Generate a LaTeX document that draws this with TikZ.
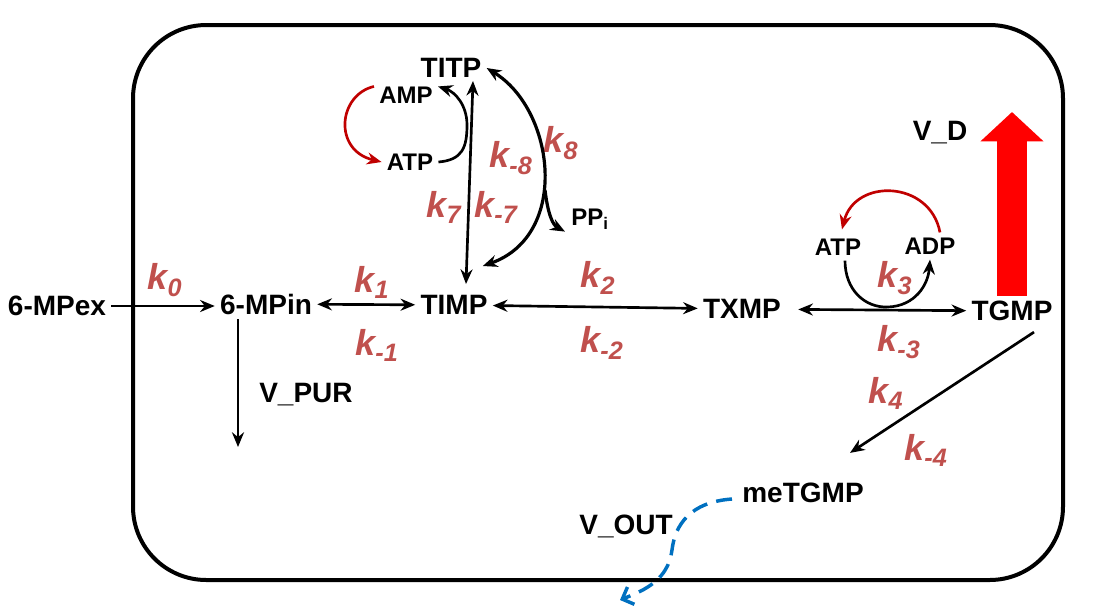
\documentclass[tikz,border=0pt]{standalone}
\usepackage{fontspec}
\setmainfont{Liberation Sans}
\usetikzlibrary{arrows.meta,positioning,calc}
\definecolor{kred}{RGB}{192,80,77}
\definecolor{cycred}{RGB}{192,0,0}
\definecolor{outblue}{RGB}{0,112,192}
\newcommand{\kk}[1]{k\textsubscript{#1}}

\begin{document}
\begin{tikzpicture}[x=0.75pt, y=-0.75pt, >={Stealth[length=11pt,width=9pt]}, line width=2pt,
  mol/.style={font=\fontsize{21}{24}\selectfont\bfseries, inner sep=3pt, text depth=0pt},
  sml/.style={font=\fontsize{18}{20}\selectfont\bfseries, inner sep=3pt, text depth=0pt},
  klab/.style={font=\fontsize{27}{30}\selectfont\bfseries\itshape, text=kred, inner sep=0pt},
  cyc/.style={cycred, ->}]
  \useasboundingbox (0,0) rectangle (1097,612);
  \draw[line width=3pt, rounded corners=55pt] (133,25) rectangle (1063,580);

  \node[mol] (mpex) at (57,306) {6-MPex};
  \node[mol] (mpin) at (266,304) {6-MPin};
  \node[mol] (timp) at (454,305) {TIMP};
  \node[mol] (txmp) at (742,309) {TXMP};
  \node[mol] (tgmp) at (1012,311) {TGMP};
  \node[mol] (titp) at (451,68) {TITP};
  \node[sml] (amp) at (406,95) {AMP};
  \node[sml] (atpa) at (410,162) {ATP};
  \node[sml] (ppi) at (590,217) {PP\textsubscript{i}};
  \node[sml] (atpb) at (838,247) {ATP};
  \node[sml] (adp) at (930,246) {ADP};
  \node[mol] (vd) at (940,131) {V\_D};
  \node[mol] (vpur) at (306,393) {V\_PUR};
  \node[mol] (metgmp) at (803,493) {meTGMP};
  \node[mol] (vout) at (626,525) {V\_OUT};

  \node[klab] (k0) at (165,280) {\kk{0}};
  \node[klab] (k1) at (372,282) {\kk{1}};
  \node[klab] (km1) at (377,345) {\kk{-1}};
  \node[klab] (k2) at (598,278) {\kk{2}};
  \node[klab] (km2) at (602,343) {\kk{-2}};
  \node[klab] (k3) at (895,278) {\kk{3}};
  \node[klab] (km3) at (899,342) {\kk{-3}};
  \node[klab] (k4) at (886,393) {\kk{4}};
  \node[klab] (km4) at (926,450) {\kk{-4}};
  \node[klab] (k7) at (444,207) {\kk{7}};
  \node[klab] (km7) at (496,207) {\kk{-7}};
  \node[klab] (km8) at (511,158) {\kk{-8}};
  \node[klab] (k8) at (561,143) {\kk{8}};

  \coordinate (purend) at (238,447);
  \coordinate (ppbr) at (545,190);
  \coordinate (vdtip) at (1012,112);
  \coordinate (outend) at (620,600);

  \draw[->] (mpex.east) -- (mpex.east -| mpin.west);
  \draw[<->] (mpin) -- (timp);
  \draw[<->] (timp) -- (txmp);
  \draw[<->, shorten <=9pt] (txmp) -- (tgmp);
  \draw[->] (mpin.south -| purend) -- (purend);
  \draw[<->] ($(titp.south)+(22,-2)$) -- ($(timp.north)+(12,-6)$);
  \draw[<->, line width=2.4pt] (titp.east) .. controls (555,110) and (570,235) .. ($(timp.north east)+(-10,-24)$);
  \draw[->, line width=2.4pt] (ppbr) .. controls (548,215) and (553,225) .. ($(ppi.south west)+(-1,1)$);
  \draw[->] (atpa.east) .. controls (462,160) and (467,148) .. (467,125) .. controls (467,105) and (455,92) .. (amp.15);
  \draw[cyc] (amp.165) .. controls (338,95) and (333,150) .. (atpa.west);
  \draw[->] ($(atpb.south)+(7,0)$) .. controls (845,290) and (865,308) .. (888,307) .. controls (915,306) and (928,285) .. (adp.south);
  \draw[cyc] ($(adp.north)+(10,0)$) .. controls (930,180) and (855,178) .. ($(atpb.north)+(4,-4)$);
  \draw[red, line width=23pt, -{Triangle[length=22pt,width=46pt]}] (tgmp.north) -- (vdtip);
  \draw[->] ($(tgmp.south)+(22,6)$) -- ($(metgmp.north east)+(-19,-25)$);
  \draw[outblue, line width=2.6pt, dash pattern=on 12pt off 7pt, -{Straight Barb[length=7pt,width=14pt]}] ($(metgmp.west)+(-5,6)$) .. controls (690,502) and (675,525) .. (672,550) .. controls (668,580) and (645,590) .. (outend);
\end{tikzpicture}
\end{document}
